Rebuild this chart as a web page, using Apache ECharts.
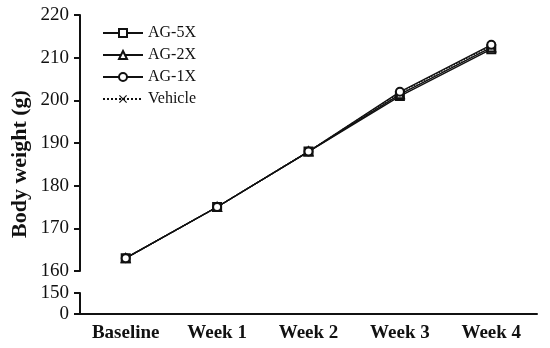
<!DOCTYPE html>
<html>
<head>
<meta charset="utf-8">
<script src="https://cdn.jsdelivr.net/npm/echarts@6/dist/echarts.min.js"></script>
<style>
html, body { margin: 0; padding: 0; background: #fff; }
#chart { width: 550px; height: 348px; }
</style>
</head>
<body>
<div id="chart"></div>
<script>
// 数据部分
var categories = ['Baseline', 'Week 1', 'Week 2', 'Week 3', 'Week 4'];
var ag5x = [163, 175, 188, 201, 212];
var ag2x = [163, 175, 188, 201.4, 212.4];
var ag1x = [163, 175, 188, 202, 213];
var vehicle = [163, 175, 188, 201.8, 212.8];
var upperTicks = [160, 220, 10];   // min, max, interval
var lowerTicks = [0, 150, 150];

var serif = 'Liberation Serif';
var black = '#111';

function makeSeries(name, data, symbol, dotted) {
    return {
        name: name,
        type: 'line',
        xAxisIndex: 0,
        yAxisIndex: 0,
        data: data,
        symbol: symbol,
        symbolSize: 8,
        showSymbol: true,
        itemStyle: { color: black, borderWidth: 1.2 },
        lineStyle: { color: black, width: 1.4, type: dotted ? 'dotted' : 'solid' },
        emphasis: { disabled: true },
        z: dotted ? 1 : 2
    };
}

var chart = echarts.init(document.getElementById('chart'));

var option = {
    animation: false,
    textStyle: { fontFamily: serif },
    grid: [
        { left: 80, right: 13, top: 15, height: 256 },
        { left: 80, right: 13, top: 293, height: 21 }
    ],
    legend: {
        orient: 'vertical',
        left: 97,
        top: 20,
        itemWidth: 40,
        itemHeight: 10,
        itemGap: 6,
        textStyle: { fontFamily: serif, fontSize: 16, color: black },
        data: ['AG-5X', 'AG-2X', 'AG-1X', 'Vehicle']
    },
    graphic: [
        {
            type: 'text',
            x: 20,
            y: 164,
            rotation: Math.PI / 2,
            style: {
                text: 'Body weight (g)',
                fontFamily: serif,
                fontWeight: 'bold',
                fontSize: 22,
                fill: black,
                align: 'center',
                verticalAlign: 'middle'
            }
        }
    ],
    xAxis: [
        {
            gridIndex: 0,
            type: 'category',
            data: categories,
            show: false
        },
        {
            gridIndex: 1,
            type: 'category',
            data: categories,
            axisLine: { lineStyle: { color: black, width: 2 } },
            axisTick: { alignWithLabel: true, length: 6, lineStyle: { width: 2 } },
            axisLabel: { color: black, fontWeight: 'bold', fontSize: 19, margin: 10 }
        }
    ],
    yAxis: [
        {
            gridIndex: 0,
            type: 'value',
            min: upperTicks[0],
            max: upperTicks[1],
            interval: upperTicks[2],
            axisLine: { show: true, lineStyle: { color: black, width: 2 } },
            axisTick: { show: true, length: 6, lineStyle: { width: 2 } },
            axisLabel: { color: black, fontSize: 19, margin: 11 },
            splitLine: { show: false }
        },
        {
            gridIndex: 1,
            type: 'value',
            min: lowerTicks[0],
            max: lowerTicks[1],
            interval: lowerTicks[2],
            axisLine: { show: true, lineStyle: { color: black, width: 2 } },
            axisTick: { show: true, length: 6, lineStyle: { width: 2 } },
            axisLabel: { color: black, fontSize: 19, margin: 11 },
            splitLine: { show: false }
        }
    ],
    series: [
        makeSeries('AG-5X', ag5x, 'emptyRect', false),
        makeSeries('AG-2X', ag2x, 'emptyTriangle', false),
        makeSeries('AG-1X', ag1x, 'emptyCircle', false),
        makeSeries('Vehicle', vehicle, 'path://M0,1L1,0L5,4L9,0L10,1L6,5L10,9L9,10L5,6L1,10L0,9L4,5Z', true)
    ]
};

chart.setOption(option);
</script>
</body>
</html>
